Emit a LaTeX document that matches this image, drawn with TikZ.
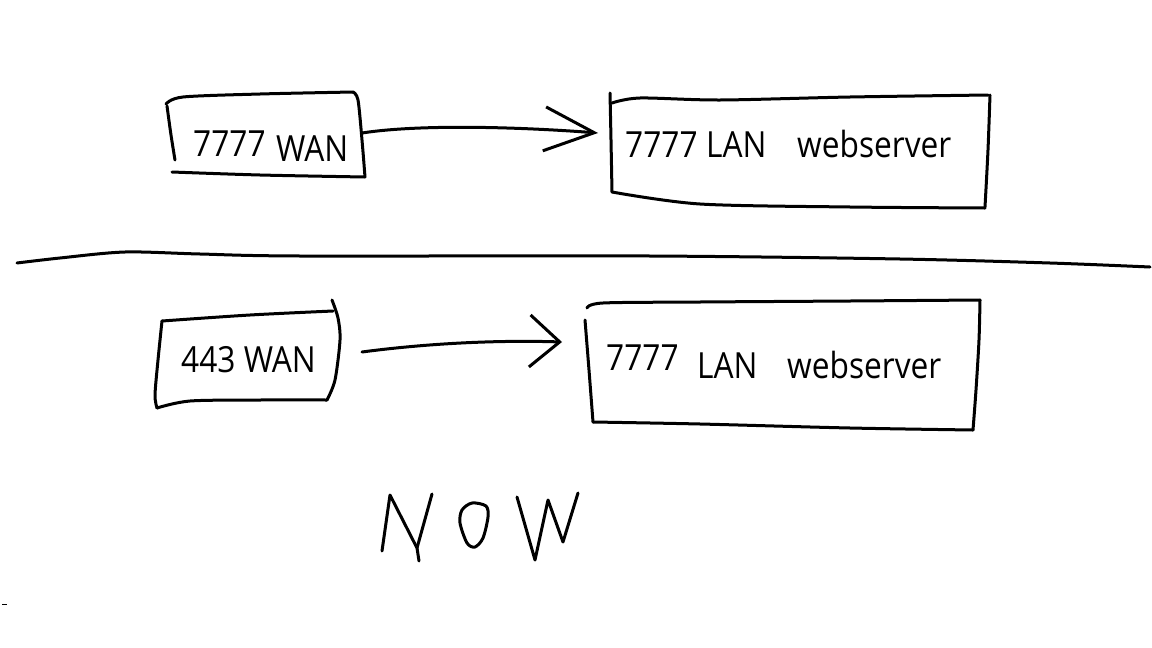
\documentclass[tikz,border=0pt]{standalone}
\usepackage{fontspec}
\setmainfont{Open Sans}[FakeStretch=0.88]
\usepackage{tikz}
\usetikzlibrary{arrows.meta}

\begin{document}
\begin{tikzpicture}[x=1pt,y=-1pt,
pen/.style={line width=3pt,line cap=round,line join=round},
lbl/.style={inner sep=0pt,anchor=base west,font=\fontsize{36}{40}\selectfont},
barb/.style n args={2}{-{Straight Barb[length=#1pt,width=#2pt,line width=3pt]}}]

\useasboundingbox (0,0) rectangle (1152,648);

\draw [pen] plot[smooth] coordinates {(166,104) (183,97) (260,94) (353,92)};
\draw [pen] plot[smooth] coordinates {(353,92) (358,100) (362,140) (365,177)};
\draw [pen] plot[smooth] coordinates {(365,177) (260,175) (172,172)};
\draw [pen] plot[smooth] coordinates {(167,106) (171,135) (175,160)};
\node [lbl] (portA) at (193,156) {7777};
\node [lbl] (wanA) at (276,161) {WAN};

\draw [pen] plot[smooth] coordinates {(612,103) (640,98) (720,100) (850,97) (988,95)};
\draw [pen] plot[smooth] coordinates {(990,95) (988,150) (985,207)};
\draw [pen] plot[smooth] coordinates {(612,192) (700,204) (850,207) (985,208)};
\draw [pen] plot[smooth] coordinates {(610,93) (611,140) (612,192)};
\node [lbl] (portB) at (625,157) {7777};
\node [lbl] (lanB) at (706,157) {LAN};
\node [lbl] (srvB) at (797,157) {webserver};

\coordinate (outA) at (362,133);
\coordinate (inB) at (598,133);
\draw [pen,barb={50}{44}] (outA) .. controls (420,124) and (520,127) .. (inB);

\draw [pen] plot[smooth] coordinates {(17,263) (60,258) (125,252) (200,254) (300,256) (650,256) (900,259) (1050,263) (1150,267)};

\draw [pen] plot[smooth] coordinates {(162,321) (250,315) (333,311)};
\draw [pen] plot[smooth] coordinates {(332,300) (338,318) (340,340) (335,380) (327,400)};
\draw [pen] plot[smooth] coordinates {(157,408) (190,401) (260,400) (327,400)};
\draw [pen] plot[smooth] coordinates {(162,321) (158,360) (155,395) (157,408)};
\node [lbl] (wanC) at (181,372) {443 WAN};

\draw [pen] plot[smooth] coordinates {(587,308) (603,303) (700,302) (850,301) (980,300)};
\draw [pen] plot[smooth] coordinates {(585,320) (589,370) (593,422)};
\draw [pen] plot[smooth] coordinates {(593,422) (700,424) (850,428) (973,430)};
\draw [pen] plot[smooth] coordinates {(980,300) (979,340) (976,390) (973,430)};
\node [lbl] (portD) at (606,370) {7777};
\node [lbl] (lanD) at (697,378) {LAN};
\node [lbl] (srvD) at (787,378) {webserver};

\coordinate (outC) at (362,352);
\coordinate (inD) at (562,342);
\draw [pen,barb={30}{52}] (outC) .. controls (430,343) and (500,340) .. (inD);

\draw [pen] (382,551) -- (390,495) -- (417,548) -- (419,561);
\draw [pen] (417,548) -- (432,494);
\draw [pen] plot[smooth cycle] coordinates {(462,510) (472,503) (486,506) (488,517) (483,538) (475,547) (467,543) (460,523)};
\draw [pen] (517,497) -- (535,560) -- (548,500) -- (563,542) -- (578,493);

\draw [line width=1.5pt] (2,604.5) -- (7,604.5);
\end{tikzpicture}
\end{document}
